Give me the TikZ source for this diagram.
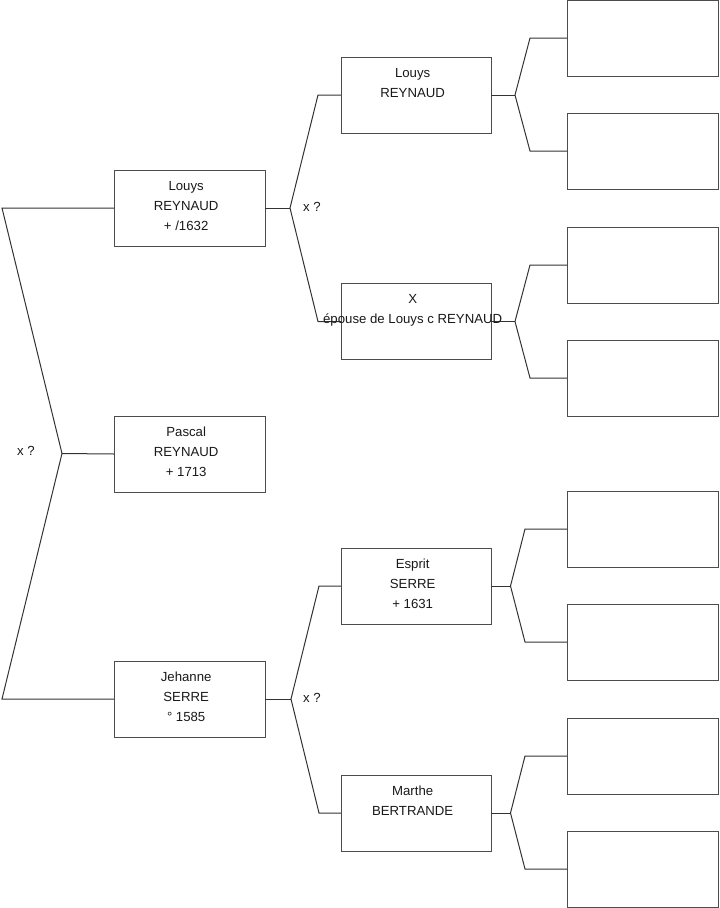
\documentclass[tikz,border=0pt]{standalone}
\usepackage{fontspec}
\setmainfont{Liberation Sans}
\begin{document}
\begin{tikzpicture}[x=0.75pt,y=-0.75pt,
  box/.style={draw=black!70,line width=0.75pt,inner sep=0pt,outer sep=0pt,minimum height=57pt},
  g1/.style={box,minimum width=113.25pt},
  g2/.style={box,minimum width=112.5pt},
  g3/.style={box,minimum width=113.25pt},
  txt/.style={align=center,inner sep=0pt,font=\fontsize{9.9}{15}\selectfont,yshift=1.5pt,xshift=-2.5pt,text=black!90},
  lbl/.style={inner sep=0pt,font=\fontsize{9.9}{11}\selectfont,text=black!90},
  link/.style={draw=black!80,line width=0.75pt}]
\useasboundingbox (0,0) rectangle (719,908);
% generation 1
\node[g1] (L1) at (189.5,208) {};
\node[g1] (P) at (189.5,454) {};
\node[g1] (J) at (189.5,699) {};
% generation 2
\node[g2] (L2) at (416,95) {};
\node[g2] (X) at (416,321.5) {};
\node[g2] (E) at (416,586) {};
\node[g2] (M) at (416,813) {};
% generation 3
\node[g3] (B1) at (642.5,38) {};
\node[g3] (B2) at (642.5,151) {};
\node[g3] (B3) at (642.5,265) {};
\node[g3] (B4) at (642.5,378) {};
\node[g3] (B5) at (642.5,529) {};
\node[g3] (B6) at (642.5,642) {};
\node[g3] (B7) at (642.5,756) {};
\node[g3] (B8) at (642.5,869) {};
% junction coordinates
\coordinate (a0) at (2,208);
\coordinate (j0) at (62,453.5);
\coordinate (b0) at (2,699);
\coordinate (j1) at (290,208);
\coordinate (u1) at (318,95);
\coordinate (d1) at (318,321.5);
\coordinate (j2) at (291,699);
\coordinate (u2) at (319,586);
\coordinate (d2) at (319,813);
\coordinate (j3) at (515,95);
\coordinate (u3) at (530,38);
\coordinate (d3) at (530,151);
\coordinate (j4) at (515,321.5);
\coordinate (u4) at (530,265);
\coordinate (d4) at (530,378);
\coordinate (j5) at (510.5,586);
\coordinate (u5) at (525,529);
\coordinate (d5) at (525,642);
\coordinate (j6) at (510.5,813);
\coordinate (u6) at (525,756);
\coordinate (d6) at (525,869);
% connectors
\draw[link] (L1.west) -- (a0) -- (j0) -- (b0) -- (J.west);
\draw[link] (j0) -- (P.west);
\draw[link] (L1.east) -- (j1);
\draw[link] (L2.west) -- (u1) -- (j1) -- (d1) -- (X.west);
\draw[link] (J.east) -- (j2);
\draw[link] (E.west) -- (u2) -- (j2) -- (d2) -- (M.west);
\draw[link] (L2.east) -- (j3);
\draw[link] (B1.west) -- (u3) -- (j3) -- (d3) -- (B2.west);
\draw[link] (X.east) -- (j4);
\draw[link] (B3.west) -- (u4) -- (j4) -- (d4) -- (B4.west);
\draw[link] (E.east) -- (j5);
\draw[link] (B5.west) -- (u5) -- (j5) -- (d5) -- (B6.west);
\draw[link] (M.east) -- (j6);
\draw[link] (B7.west) -- (u6) -- (j6) -- (d6) -- (B8.west);
% labels
\node[lbl] (x0) at (26,451) {x ?};
\node[lbl] (x1) at (312,207) {x ?};
\node[lbl] (x2) at (312,698) {x ?};
% texts
\node[txt] (L1t) at (L1) {Louys\strut\\REYNAUD\strut\\+ /1632\strut};
\node[txt] (Pt) at (P) {Pascal\strut\\REYNAUD\strut\\+ 1713\strut};
\node[txt] (Jt) at (J) {Jehanne\strut\\SERRE\strut\\° 1585\strut};
\node[txt] (L2t) at (L2) {Louys\strut\\REYNAUD\strut\\\strut};
\node[txt] (Xt) at (X) {X\strut\\épouse de Louys c REYNAUD\strut\\\strut};
\node[txt] (Et) at (E) {Esprit\strut\\SERRE\strut\\+ 1631\strut};
\node[txt] (Mt) at (M) {Marthe\strut\\BERTRANDE\strut\\\strut};
\end{tikzpicture}
\end{document}
